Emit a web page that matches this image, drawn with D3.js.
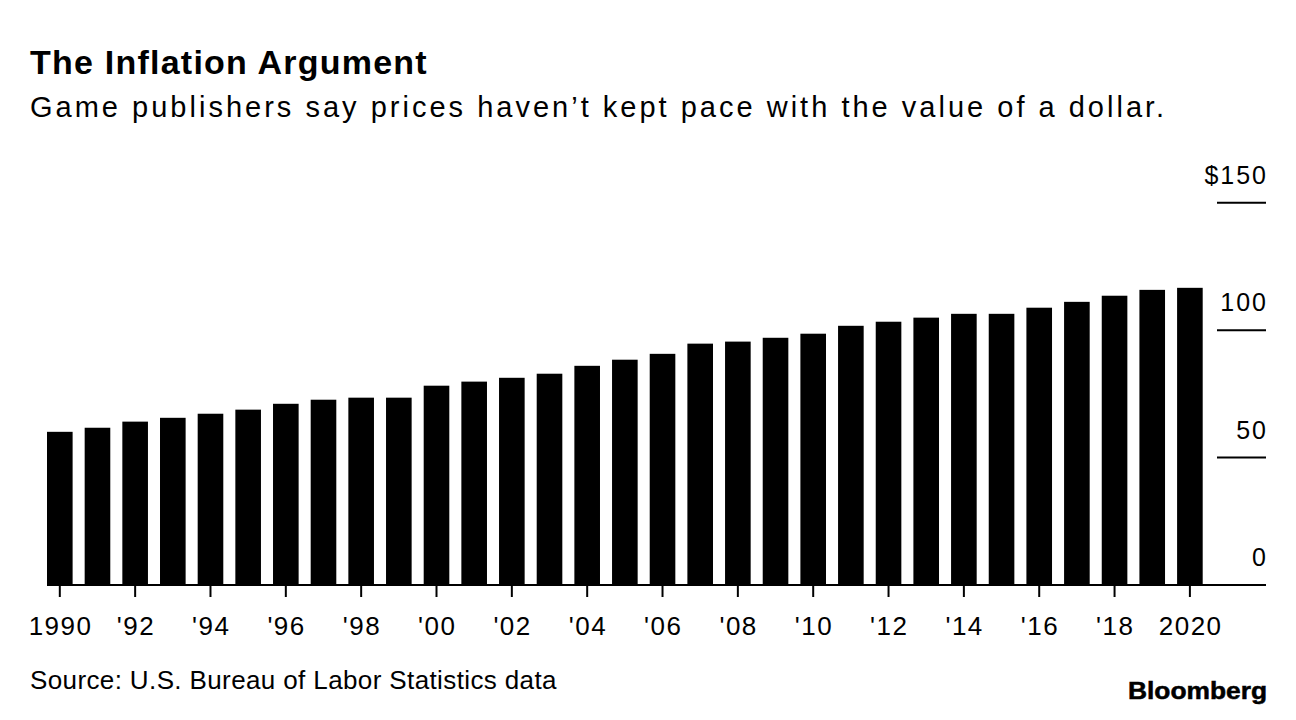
<!DOCTYPE html>
<html>
<head>
<meta charset="utf-8">
<script src="https://cdn.jsdelivr.net/npm/d3@7"></script>
<style>
  html, body { margin: 0; padding: 0; background: #fff; }
  svg { display: block; }
  text { fill: #000; }
</style>
</head>
<body>
<svg id="chart" width="1296" height="720" font-family="'Liberation Sans', Arial, Helvetica, sans-serif"></svg>
<script>
const years = d3.range(1990, 2021);
const prices = [60.1, 61.7, 64.1, 65.6, 67.2, 68.8, 71.1, 72.7, 73.5, 73.5,
                78.2, 79.8, 81.3, 82.9, 86.0, 88.4, 90.7, 94.7, 95.5, 97.0,
                98.6, 101.7, 103.3, 104.9, 106.4, 106.4, 108.8, 111.1, 113.5, 115.8,
                116.6];
const yTickValues = [0, 50, 100, 150];
const yTickLabels = ["0", "50", "100", "$150"];
const xTickYears = d3.range(1990, 2021, 2);
const xTickLabels = ["1990", "'92", "'94", "'96", "'98", "'00", "'02", "'04", "'06",
                     "'08", "'10", "'12", "'14", "'16", "'18", "2020"];

const title = "The Inflation Argument";
const subtitle = "Game publishers say prices haven\u2019t kept pace with the value of a dollar.";
const source = "Source: U.S. Bureau of Labor Statistics data";

const svg = d3.select("#chart");

// spread a start-anchored text to a target width with letter-spacing
function fitWidth(sel, target) {
  const n = sel.text().length;
  const w = sel.node().getComputedTextLength();
  sel.attr("letter-spacing", ((target - w) / n).toFixed(2));
}

const x = d3.scaleBand()
  .domain(years)
  .range([47, 1202.7])
  .paddingInner(0.32)
  .paddingOuter(0);

const y = d3.scaleLinear()
  .domain([0, 150])
  .range([585, 202.7]);

// Title & subtitle
const tTitle = svg.append("text")
  .attr("x", 30).attr("y", 73.5)
  .attr("font-size", 34).attr("font-weight", "bold")
  .text(title);
fitWidth(tTitle, 398);

const tSub = svg.append("text")
  .attr("x", 30).attr("y", 117)
  .attr("font-size", 29)
  .text(subtitle);
fitWidth(tSub, 1137);

// Bars
svg.append("g").selectAll("rect")
  .data(years)
  .join("rect")
  .attr("x", d => x(d))
  .attr("width", x.bandwidth())
  .attr("y", (d, i) => y(prices[i]))
  .attr("height", (d, i) => y(0) - y(prices[i]))
  .attr("fill", "#000");

// Y "axis": short gridlines at right with labels above
const yLS = 2;
const yg = svg.append("g");
yg.selectAll("line.grid")
  .data(yTickValues.filter(v => v > 0))
  .join("line")
  .attr("class", "grid")
  .attr("x1", 1217).attr("x2", 1266)
  .attr("y1", d => y(d)).attr("y2", d => y(d))
  .attr("stroke", "#000").attr("stroke-width", 2);

yg.selectAll("text")
  .data(yTickValues)
  .join("text")
  .attr("x", 1266 + yLS)
  .attr("y", d => y(d) - 19)
  .attr("text-anchor", "end")
  .attr("font-size", 25)
  .attr("letter-spacing", yLS)
  .text((d, i) => yTickLabels[i]);

// X axis
const xLS = 1.5;
const xAxis = d3.axisBottom(x)
  .tickValues(xTickYears)
  .tickFormat((d, i) => xTickLabels[i])
  .tickSize(12)
  .tickPadding(14)
  .tickSizeOuter(0);

const xg = svg.append("g")
  .attr("transform", `translate(0,${y(0)})`)
  .call(xAxis);

xg.attr("font-family", null).attr("font-size", null);
xg.select(".domain").remove();
xg.selectAll(".tick line").attr("stroke", "#000").attr("stroke-width", 2);
xg.selectAll(".tick text")
  .attr("font-size", 26)
  .attr("fill", "#000")
  .attr("letter-spacing", xLS)
  .attr("dx", xLS / 2)
  .attr("dy", null)
  .attr("y", 50);

// Baseline
svg.append("line")
  .attr("x1", 47).attr("x2", 1266)
  .attr("y1", y(0)).attr("y2", y(0))
  .attr("stroke", "#000").attr("stroke-width", 2);

// Source
const tSrc = svg.append("text")
  .attr("x", 30).attr("y", 688.5)
  .attr("font-size", 26)
  .text(source);
fitWidth(tSrc, 527);

// Logo
svg.append("text")
  .attr("x", 1128).attr("y", 699)
  .attr("font-size", 23).attr("font-weight", "bold")
  .attr("textLength", 139)
  .attr("lengthAdjust", "spacingAndGlyphs")
  .attr("stroke", "#000").attr("stroke-width", 0.5)
  .text("Bloomberg");
</script>
</body>
</html>
